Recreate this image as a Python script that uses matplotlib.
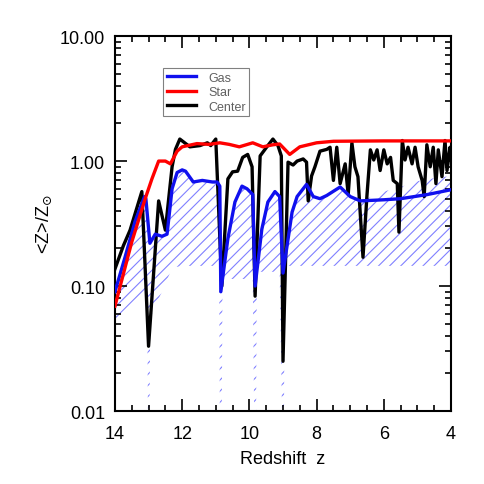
import numpy as np
import matplotlib
matplotlib.use("Agg")
import matplotlib.pyplot as plt
from matplotlib.ticker import FixedLocator, LogLocator, NullFormatter

# gas metallicity (blue)
z_gas = [14.0, 13.7, 13.4, 13.12, 13.08, 12.96, 12.8, 12.6, 12.45, 12.3, 12.15, 12.0, 11.9,
         11.67, 11.4, 11.1, 10.96, 10.88, 10.85, 10.64, 10.43, 10.22, 10.07, 9.9, 9.83, 9.63,
         9.45, 9.24, 9.1, 9.0, 8.73, 8.58, 8.3, 8.1, 7.9, 7.7, 7.3, 7.0, 6.7, 6.0, 5.5, 4.7, 4.0]
gas = [0.09, 0.17, 0.33, 0.52, 0.5, 0.22, 0.26, 0.25, 0.26, 0.6, 0.81, 0.85, 0.83,
       0.68, 0.7, 0.68, 0.68, 0.63, 0.09, 0.24, 0.47, 0.63, 0.6, 0.54, 0.1, 0.285,
       0.47, 0.57, 0.52, 0.127, 0.39, 0.52, 0.65, 0.52, 0.5, 0.53, 0.62, 0.52, 0.48, 0.49, 0.5, 0.54, 0.59]

# stellar metallicity (red)
z_star = [14.0, 13.5, 13.1, 12.9, 12.7, 12.5, 12.35, 12.15, 12.0, 11.56, 11.2, 10.88,
          10.6, 10.3, 9.9, 9.6, 9.3, 9.1, 8.8, 8.5, 8.0, 7.5, 6.0, 4.0]
star = [0.069, 0.225, 0.5, 0.72, 1.0, 1.0, 0.95, 1.2, 1.3, 1.38, 1.36, 1.4,
        1.36, 1.3, 1.4, 1.3, 1.35, 1.37, 1.13, 1.3, 1.4, 1.44, 1.45, 1.45]

# central metallicity (black)
z_center = [14.0, 13.75, 13.55, 13.2, 13.0, 12.7, 12.5, 12.3, 12.2, 12.07, 11.77, 11.47,
            11.25, 11.15, 11.0, 10.82, 10.64, 10.5, 10.35, 10.2, 10.05, 9.92, 9.83, 9.68,
            9.48, 9.3, 9.15, 9.05, 9.0, 8.85, 8.7, 8.58, 8.4, 8.3, 8.25, 8.15, 8.05, 7.9,
            7.7, 7.6, 7.5, 7.4, 7.3, 7.15, 7.06, 6.95, 6.86, 6.77, 6.62, 6.5, 6.4, 6.3,
            6.2, 6.11, 6.0, 5.9, 5.8, 5.72, 5.6, 5.55, 5.45, 5.37, 5.28, 5.16, 5.07, 4.98,
            4.86, 4.8, 4.72, 4.62, 4.53, 4.45, 4.38, 4.27, 4.18, 4.12, 4.03, 4.0]
center = [0.137, 0.21, 0.28, 0.57, 0.033, 0.48, 0.28, 0.9, 1.24, 1.5, 1.3, 1.33,
          1.4, 1.33, 1.5, 0.1, 0.72, 0.82, 0.83, 1.07, 1.13, 0.9, 0.083, 1.1,
          1.3, 1.5, 1.33, 1.1, 0.025, 0.98, 0.93, 1.0, 1.04, 0.98, 0.48, 0.76, 0.9, 1.2,
          1.24, 1.29, 0.7, 1.29, 0.66, 0.95, 0.54, 1.4, 0.9, 0.75, 0.17, 0.54, 1.23, 1.02,
          1.23, 0.84, 1.23, 0.95, 1.07, 0.7, 0.66, 0.27, 1.46, 1.02, 1.29, 0.95, 1.29, 0.9,
          0.7, 0.52, 1.35, 0.9, 1.29, 0.66, 1.23, 0.75, 1.46, 0.84, 1.29, 1.1]

# hatched gas spread (upper / lower bounds)
z_band = [14.0, 13.7, 13.4, 13.12, 13.04, 13.02, 12.97, 12.95, 12.8, 12.6, 12.3, 12.0,
          11.67, 11.4, 11.1, 10.9, 10.88, 10.82, 10.8, 10.64, 10.43, 10.22, 10.07, 9.9,
          9.86, 9.8, 9.78, 9.63, 9.45, 9.24, 9.1, 9.03, 8.97, 8.95, 8.73, 8.58, 8.3, 8.1,
          7.9, 7.7, 7.3, 7.0, 6.5, 6.0, 5.5, 5.0, 4.5, 4.0]
band_hi = [0.09, 0.17, 0.33, 0.52, 0.35, 0.3, 0.27, 0.22, 0.26, 0.25, 0.6, 0.85,
           0.68, 0.7, 0.68, 0.63, 0.09, 0.09, 0.12, 0.24, 0.47, 0.63, 0.6, 0.54,
           0.1, 0.1, 0.14, 0.285, 0.47, 0.57, 0.52, 0.127, 0.127, 0.2, 0.39, 0.52, 0.65, 0.52,
           0.5, 0.53, 0.62, 0.52, 0.5, 0.57, 0.62, 0.69, 0.73, 0.76]
band_lo = [0.054, 0.065, 0.078, 0.09, 0.09, 0.01, 0.01, 0.055, 0.07, 0.09, 0.14, 0.145,
           0.145, 0.145, 0.145, 0.145, 0.01, 0.01, 0.11, 0.114, 0.114, 0.114, 0.114, 0.114,
           0.01, 0.01, 0.13, 0.13, 0.13, 0.13, 0.13, 0.01, 0.01, 0.145, 0.145, 0.145, 0.145, 0.145,
           0.145, 0.145, 0.145, 0.145, 0.145, 0.145, 0.145, 0.145, 0.145, 0.145]

x_ticks = [14, 12, 10, 8, 6, 4]
y_ticks = [0.01, 0.1, 1.0, 10.0]
y_ticklabels = ["0.01", "0.10", "1.00", "10.00"]

plt.rcParams["font.family"] = ["Liberation Sans", "DejaVu Sans"]
plt.rcParams["hatch.linewidth"] = 0.8

fig = plt.figure(figsize=(4.85, 4.85), dpi=100)
ax = fig.add_axes([0.237, 0.1505, 0.693, 0.773])

ax.fill_between(z_band, band_lo, band_hi, facecolor="none", edgecolor="#8080ff",
                hatch="///", linewidth=0, zorder=1)
ax.plot(z_center, center, color="black", lw=2.4, label="Center", zorder=3)
ax.plot(z_gas, gas, color="#1010ee", lw=2.4, label="Gas", zorder=4)
ax.plot(z_star, star, color="#ff0000", lw=2.4, label="Star", zorder=5)

ax.set_yscale("log")
ax.set_xlim(14, 4)
ax.set_ylim(0.01, 10)

ax.xaxis.set_major_locator(FixedLocator(x_ticks))
ax.xaxis.set_minor_locator(FixedLocator(np.arange(4, 14.01, 0.5)))
ax.set_xticklabels([str(t) for t in x_ticks])
ax.yaxis.set_major_locator(FixedLocator(y_ticks))
ax.yaxis.set_minor_locator(LogLocator(base=10, subs=np.arange(2, 10)))
ax.yaxis.set_minor_formatter(NullFormatter())
ax.set_yticklabels(y_ticklabels)

ax.tick_params(which="both", direction="in", top=True, right=True, width=1.2, labelsize=13)
ax.tick_params(which="major", length=8.5)
ax.tick_params(which="minor", length=4.5)
ax.tick_params(axis="x", pad=10)
ax.tick_params(axis="y", pad=7)
for s in ax.spines.values():
    s.set_linewidth(1.5)

ax.set_xlabel("Redshift  z", fontsize=13, labelpad=6)
ax.set_ylabel(r"<Z>/Z$_{\odot}$", fontsize=13, labelpad=4)

handles, labels = ax.get_legend_handles_labels()
order = [1, 2, 0]
leg = ax.legend([handles[i] for i in order], [labels[i] for i in order],
                loc="upper left", bbox_to_anchor=(0.143, 0.915), fontsize=9,
                frameon=True, fancybox=False, edgecolor="#808080", framealpha=1,
                handlelength=2.3, labelspacing=0.2, borderpad=0.3, handletextpad=1.0,
                borderaxespad=0)
leg.get_frame().set_linewidth(0.8)
for t in leg.get_texts():
    t.set_color("#606060")

fig.savefig("out.png", dpi=100, facecolor="white")
